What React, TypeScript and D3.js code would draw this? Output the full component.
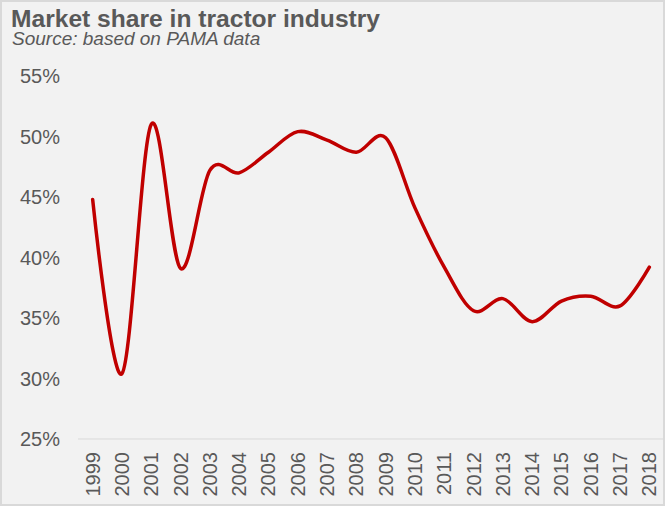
import React, { useRef, useEffect } from 'react';
import * as d3 from 'd3';

const years = ['1999', '2000', '2001', '2002', '2003', '2004', '2005', '2006', '2007', '2008',
  '2009', '2010', '2011', '2012', '2013', '2014', '2015', '2016', '2017', '2018'];
const share = [44.8, 30.4, 51.0, 39.1, 47.2, 47.0, 48.7, 50.4, 49.7, 48.7,
  49.9, 44.1, 39.2, 35.6, 36.6, 34.7, 36.4, 36.8, 36.0, 39.2];
const yTicks = [25, 30, 35, 40, 45, 50, 55];

const App: React.FC = () => {
  const ref = useRef<SVGSVGElement>(null);

  useEffect(() => {
    const svg = d3.select(ref.current);
    svg.selectAll('*').remove();
    const width = 665;
    const height = 506;
    const margin = { top: 76, right: 1, bottom: 67, left: 78 };
    const textColor = '#595959';
    const font = '"Liberation Sans", Arial, sans-serif';

    svg.attr('width', width).attr('height', height);

    // background + frame
    svg.append('rect')
      .attr('x', 1).attr('y', 1)
      .attr('width', width - 2).attr('height', height - 2)
      .attr('fill', '#f2f2f2')
      .attr('stroke', '#d9d9d9')
      .attr('stroke-width', 2);

    svg.append('text')
      .attr('x', 11).attr('y', 26.5)
      .attr('fill', textColor)
      .attr('font-family', font)
      .attr('font-weight', 'bold')
      .attr('font-size', 24.6)
      .text('Market share in tractor industry');

    svg.append('text')
      .attr('x', 12).attr('y', 44.5)
      .attr('fill', textColor)
      .attr('font-family', font)
      .attr('font-style', 'italic')
      .attr('font-size', 19)
      .text('Source: based on PAMA data');

    const x = d3.scaleBand()
      .domain(years)
      .range([margin.left, width - margin.right]);

    const y = d3.scaleLinear()
      .domain([25, 55])
      .range([height - margin.bottom, margin.top]);

    // baseline
    svg.append('line')
      .attr('x1', margin.left).attr('x2', width - 2)
      .attr('y1', y(25)).attr('y2', y(25))
      .attr('stroke', '#d9d9d9')
      .attr('stroke-width', 1);

    // y labels
    svg.append('g')
      .selectAll('text')
      .data(yTicks)
      .join('text')
      .attr('x', 60)
      .attr('y', d => y(d))
      .attr('dy', '0.35em')
      .attr('text-anchor', 'end')
      .attr('fill', textColor)
      .attr('font-family', font)
      .attr('font-size', 20)
      .text(d => `${d}%`);

    // x labels (rotated)
    svg.append('g')
      .selectAll('text')
      .data(years)
      .join('text')
      .attr('transform', d => `translate(${x(d)! + x.bandwidth() / 2},${y(25) + 13}) rotate(-90)`)
      .attr('dy', '0.35em')
      .attr('text-anchor', 'end')
      .attr('fill', textColor)
      .attr('font-family', font)
      .attr('font-size', 20)
      .text(d => d);

    const line = d3.line<number>()
      .curve(d3.curveCardinal.tension(0))
      .x((d, i) => x(years[i])! + x.bandwidth() / 2)
      .y(d => y(d));

    svg.append('path')
      .datum(share)
      .attr('fill', 'none')
      .attr('stroke', '#c00000')
      .attr('stroke-width', 3.5)
      .attr('stroke-linejoin', 'round')
      .attr('stroke-linecap', 'round')
      .attr('d', line);
  }, []);

  return <svg ref={ref} style={{ position: 'absolute', left: 0, top: 0 }}></svg>;
};

export default App;
